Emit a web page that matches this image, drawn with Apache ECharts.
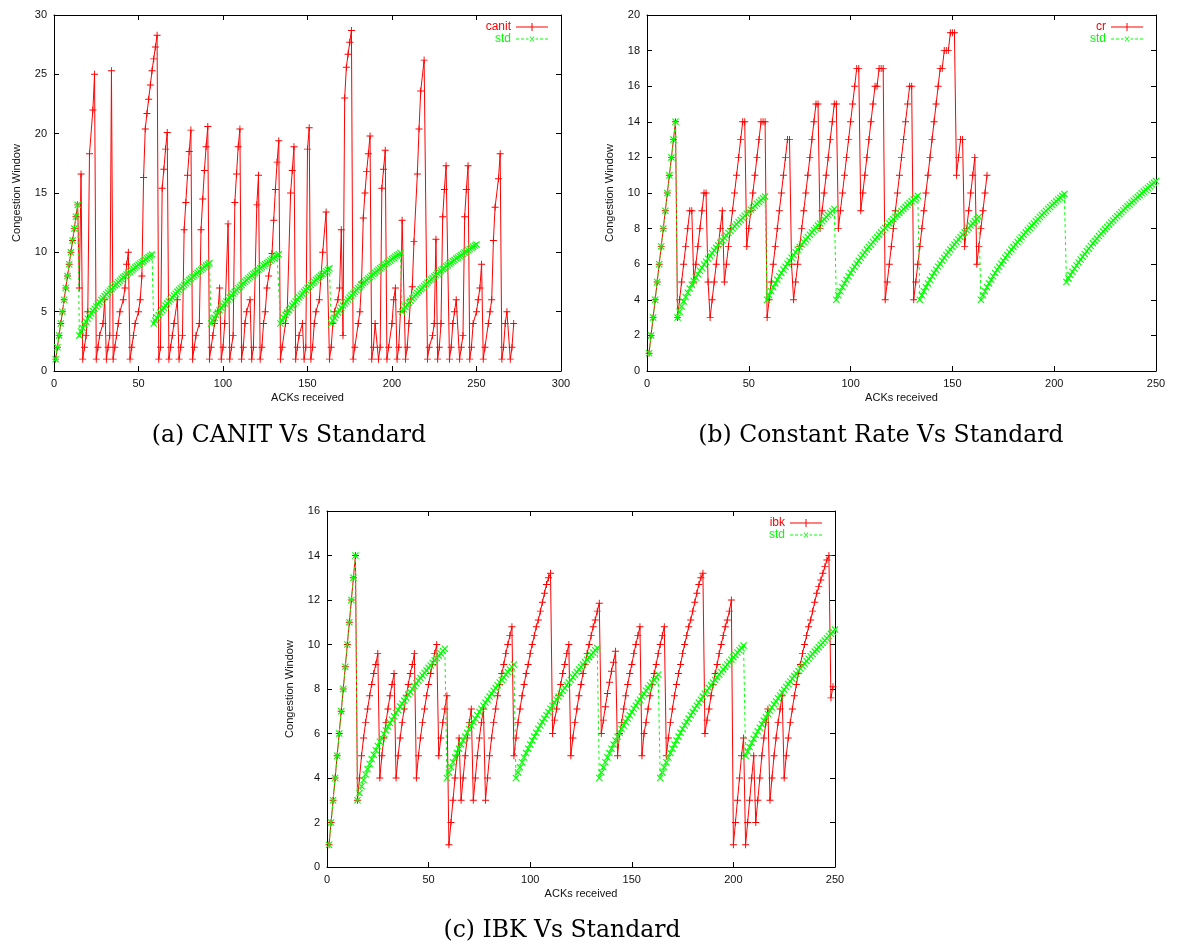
<!DOCTYPE html>
<html><head><meta charset="utf-8">
<script src="https://cdn.jsdelivr.net/npm/echarts@6/dist/echarts.min.js"></script>
<style>html,body{margin:0;padding:0;background:#fff}#c{width:1180px;height:947px}</style>
</head><body><div id="c"></div>
<script>
// ---------- data ----------
// std series, x = 1..250
const stdY = [1,2,3,4,5,6,7,8,9,10,11,12,13,14,
3.00,3.33,3.63,3.91,4.16,4.40,4.63,4.85,5.05,5.25,5.44,5.63,5.80,5.98,6.14,6.31,6.47,6.62,6.77,6.92,7.06,7.21,7.34,7.48,7.61,7.75,7.87,8.00,8.13,8.25,8.37,8.49,8.61,8.72,8.84,8.95,9.06,9.17,9.28,9.39,9.50,9.60,9.71,9.81,
4.00,4.25,4.48,4.71,4.92,5.12,5.32,5.51,5.69,5.86,6.03,6.20,6.36,6.52,6.67,6.82,6.97,7.11,7.25,7.39,7.52,7.66,7.79,7.92,8.04,8.17,8.29,8.41,8.53,8.65,8.76,8.88,8.99,9.10,
4.00,4.25,4.48,4.71,4.92,5.12,5.32,5.51,5.69,5.86,6.03,6.20,6.36,6.52,6.67,6.82,6.97,7.11,7.25,7.39,7.52,7.66,7.79,7.92,8.04,8.17,8.29,8.41,8.53,8.65,8.76,8.88,8.99,9.10,9.21,9.32,9.43,9.53,9.64,9.74,9.84,
4.00,4.25,4.48,4.71,4.92,5.12,5.32,5.51,5.69,5.86,6.03,6.20,6.36,6.52,6.67,6.82,6.97,7.11,7.25,7.39,7.52,7.66,7.79,7.92,8.04,8.17,8.29,8.41,8.53,8.65,
4.00,4.25,4.48,4.71,4.92,5.12,5.32,5.51,5.69,5.86,6.03,6.20,6.36,6.52,6.67,6.82,6.97,7.11,7.25,7.39,7.52,7.66,7.79,7.92,8.04,8.17,8.29,8.41,8.53,8.65,8.76,8.88,8.99,9.10,9.21,9.32,9.43,9.53,9.64,9.74,9.84,9.95,
5.00,5.20,5.39,5.58,5.76,5.93,6.10,6.26,6.42,6.58,6.73,6.88,7.02,7.17,7.31,7.44,7.58,7.71,7.84,7.97,8.09,8.22,8.34,8.46,8.58,8.69,8.81,8.92,9.03,9.14,9.25,9.36,9.47,9.57,9.68,9.78,9.88,9.99,10.08,10.18,10.28,10.38,10.48,10.57,10.67];

const canitPts = [[1,1],[2,2],[3,3],[4,4],[5,5],[6,6],[7,7],[8,8],[9,9],[10,10],[11,11],[12,12],[13,13],[14,14],
[15,7],[16,16.6],[17,1],[18,2],[19,3],[20,5],[21,18.3],[23,22],[24,25],[25,1],[26,2],[27,3],[29,4],[30,6],[31,1],[32,2],[33,3],[34,25.3],[35,1],[36,2],[37,3],[38,4],[39,5],[41,6],[42,7],[43,9],[44,10],[45,1],[46,2],[47,3],[48,4],[50,5],[51,6],[52,8],[53,16.3],[54,20.4],[55,21.7],[56,22.9],[57,24.1],[58,25.3],[59,26.3],[60,27.3],[61,28.3],[62,1],[63,2],[64,15.4],[65,17],[66,18.7],[67,20.1],[68,1],[69,2],[70,3],[71,4],[73,6],
[74,1],[75,2],[76,3],[77,11.9],[78,14.2],[79,16.5],[80,18.5],[81,20.3],[82,1],[83,2],[84,3],[86,4],[87,11.9],[88,14.5],[89,16.9],[90,18.9],[91,20.6],[92,1],[93,2],[94,3],[95,4],[97,5],[98,7],[99,1],[100,2],[101,4],[103,12.4],[104,1],[105,2],[106,3],[107,14.2],[108,16.6],[109,18.9],[110,20.4],[111,1],[112,2],[113,4],[114,5],[116,6],[117,1],[118,2],[120,14],[121,16.5],[122,1],[123,2],[124,4],[125,5],[126,7],[127,8],[129,9.9],[130,12.7],[131,15.3],[132,17.6],[133,19.4],[134,1],[135,2],[137,4],[138,5],[140,15],[141,16.9],[142,18.9],[143,1],[144,2],[145,3],[147,4],
[148,1],[149,2],[150,18.7],[151,20.5],[152,1],[153,2],[154,4],[155,5],[157,6],[158,8],[159,10],[161,13.4],[163,1],[164,2],[165,4],[166,5],[168,6],[169,7],[170,11.9],[171,3],[172,23],[173,25.6],[174,26.7],[175,27.7],[176,28.7],[177,1],[178,2],[180,4],[181,5],[182,7.5],[183,12.9],[184,15],[185,16.8],[186,18.3],[187,19.8],[188,1],[189,2],[190,4],[192,1],[193,2],[194,15.4],[195,17],[196,18.6],[197,1],[198,2],[200,4],[201,6],[202,7],[203,1],[204,2],[205,5],[206,12.7],[208,1],[209,2],[210,4],[211,6],[212,7.1],[213,10.9],[215,16.6],[216,20.4],[217,23.6],[219,26.2],
[221,1],[222,2],[224,3],[225,4],[226,11.1],[227,1],[228,2],[229,4],[230,13],[231,15.3],[232,17.3],[234,1],[235,2],[236,4],[237,5],[238,6],[240,1],[241,2],[242,3],[243,13],[244,15.3],[245,17.3],[246,1],[247,2],[248,4],[250,5],[251,6],[252,7],[253,9],[254,1],[255,2],[257,4],[258,5],[259,6],[260,11],[261,13.8],[263,16.2],[264,18.3],[265,1],[266,2],[267,4],[268,5],[270,1],[271,2],[272,4]];

const crPts = [[1,1],[2,2],[3,3],[4,4],[5,5],[6,6],[7,7],[8,8],[9,9],[10,10],[11,11],[12,12],[13,13],[14,14],
[15,3],[16,4],[17,5],[18,6],[19,7],[20,8],[21,9],[22,9],[23,5],[24,6],[25,7],[26,8],[27,9],[28,10],[29,10],[30,5],[31,3],[32,4],[33,5],[34,6],[35,7],[36,8],[37,9],[38,5],[39,6],[40,7],[41,8],[42,9],[43,10],[44,11],[45,12],[46,13],[47,14],[48,14],[49,7],[50,8],[51,9],[52,10],[53,11],[54,12],[55,13],[56,14],[57,14],[58,14],[59,3],
[60,4],[61,5],[62,6],[63,7],[64,8],[65,9],[66,10],[67,11],[68,12],[69,13],[70,13],[71,6],[72,4],[73,5],[74,6],[75,7],[76,8],[77,9],[78,10],[79,11],[80,12],[81,13],[82,14],[83,15],[84,15],[85,8],[86,9],[87,10],[88,11],[89,12],[90,13],[91,14],[92,15],[93,15],[94,8],[95,9],[96,10],[97,11],[98,12],[99,13],[100,14],[101,15],[102,16],[103,17],[104,17],[105,9],[106,10],[107,11],[108,12],[109,13],[110,14],[111,15],[112,16],[113,16],[114,17],[115,17],[116,17],[117,4],
[118,5],[119,6],[120,7],[121,8],[122,9],[123,10],[124,11],[125,12],[126,13],[127,14],[128,15],[129,16],[130,16],[131,4],[132,5],[133,6],[134,7],[135,8],[136,9],[137,10],[138,11],[139,12],[140,13],[141,14],[142,15],[143,16],[144,17],[145,17],[146,18],[147,18],[148,18],[149,19],[150,19],[151,19],[152,11],[153,12],[154,13],[155,13],[156,7],[157,8],[158,9],[159,10],[160,11],[161,12],[162,6],[163,7],[164,8],[165,9],[166,10],[167,11]];

const ibkPts = [[1,1],[2,2],[3,3],[4,4],[5,5],[6,6],[7,7],[8,8],[9,9],[10,10],[11,11],[12,12],[13,13],[14,14],
[15,3],[16,4],[17,5],[18,5.8],[19,6.5],[20,7.1],[21,7.7],[22,8.2],[23,8.7],[24,9.1],[25,9.6],[26,4],[27,5],[28,5.8],[29,6.5],[30,7.1],[31,7.7],[32,8.2],[33,8.7],[34,4],[35,5],[36,5.8],[37,6.5],[38,7.1],[39,7.7],[40,8.2],[41,8.7],[42,9.1],[43,9.6],[44,4],[45,5],[46,5.8],[47,6.5],[48,7.1],[49,7.7],[50,8.2],[51,8.7],[52,9.1],[53,9.6],[54,10],[55,5],[56,5.8],[57,6.5],[58,7.1],[59,7.7],
[60,1],[61,2],[62,3],[63,4],[64,5],[65,5.8],[66,3],[67,4],[68,5],[69,5.8],[70,6.5],[71,7.1],[72,3],[73,4],[74,5],[75,5.8],[76,6.5],[77,7.1],[78,3],[79,4],[80,5],[81,5.8],[82,6.5],[83,7.1],[84,7.7],[85,8.2],[86,8.7],[87,9.1],[88,9.6],[89,10],[90,10.4],[91,10.8],
[92,5],[93,5.8],[94,6.5],[95,7.1],[96,7.7],[97,8.2],[98,8.7],[99,9.1],[100,9.6],[101,10],[102,10.4],[103,10.8],[104,11.1],[105,11.5],[106,11.9],[107,12.3],[108,12.7],[109,13],[110,13.2],
[111,6],[112,6.6],[113,7.1],[114,7.7],[115,8.2],[116,8.7],[117,9.1],[118,9.6],[119,10],[120,5],[121,5.8],[122,6.5],[123,7.1],[124,7.7],[125,8.2],[126,8.7],[127,9.1],[128,9.6],[129,10],[130,10.4],[131,10.8],[132,11.1],[133,11.5],[134,11.85],
[135,6],[136,6.6],[137,7.2],[138,7.8],[139,8.3],[140,8.8],[141,9.2],[142,9.7],[143,5],[144,6],[145,6.5],[146,7.1],[147,7.7],[148,8.2],[149,8.7],[150,9.1],[151,9.6],[152,10],[153,10.4],[154,10.8],
[155,5],[156,6],[157,6.5],[158,7.1],[159,7.7],[160,8.2],[161,8.7],[162,9.1],[163,9.6],[164,10],[165,10.4],[166,10.8],
[167,5],[168,5.8],[169,6.5],[170,7.1],[171,7.7],[172,8.2],[173,8.7],[174,9.1],[175,9.6],[176,10],[177,10.4],[178,10.8],[179,11.1],[180,11.5],[181,11.9],[182,12.3],[183,12.7],[184,13],[185,13.2],
[186,6],[187,6.6],[188,7.1],[189,7.7],[190,8.2],[191,8.7],[192,9.1],[193,9.6],[194,10],[195,10.4],[196,10.8],[197,11.1],[198,11.5],[199,12],
[200,1],[201,2],[202,3],[203,4],[204,5],[205,5.8],[206,1],[207,2],[208,3],[209,4],[210,5],[211,2],[212,3],[213,4],[214,5],[215,5.8],[216,6.5],[217,7.1],[218,3],[219,4],[220,5],[221,5.8],[222,6.5],[223,7.1],[224,7.7],
[225,4],[226,5],[227,5.8],[228,6.5],[229,7.1],[230,7.7],[231,8.2],[232,8.7],[233,9.1],[234,9.6],[235,10],[236,10.4],[237,10.8],[238,11.1],[239,11.5],[240,11.9],[241,12.3],[242,12.6],[243,12.9],[244,13.2],[245,13.5],[246,13.8],[247,14],[248,7.6],[249,8.1]];

const redNames = ['canit','cr','ibk'];
const captions = ['(a) CANIT Vs Standard','(b) Constant Rate Vs Standard','(c) IBK Vs Standard'];
const xMaxes = [300,250,250];
const yMaxes = [30,20,16];
const yIntervals = [5,2,2];
const xInterval = 50;

// ---------- layout ----------
const grids = [
  {left:54, top:15, width:507, height:356},
  {left:647, top:15, width:509, height:356},
  {left:327, top:511, width:508, height:356}
];
const captionPos = [[289,436],[881,436],[562,931]];
const RED = '#ff0000', GREEN = '#00ff00';
const PLUS = 'path://M0,2.6H6V3.4H0Z M2.6,0H3.4V6H2.6Z';
const CROSS = 'path://M0,0.7L0.7,0L6,5.3L5.3,6Z M5.3,0L6,0.7L0.7,6L0,5.3Z';
const ICON_RED = 'path://M0,3.5H32V4.5H0Z M15.5,0H16.5V8H15.5Z';
const ICON_GREEN = 'path://M0,2H3V3H0Z M5,2H8V3H5Z M10,2H12.5V3H10Z M19.5,2H22V3H19.5Z M24,2H27V3H24Z M29,2H32V3H29Z M13.5,0L14.5,0L18.5,5L17.5,5Z M17.5,0L18.5,0L14.5,5L13.5,5Z';
const FONT = 'Liberation Sans';

const xAxis = [], yAxis = [], series = [], legend = [], graphic = [];
const redData = [canitPts, crPts, ibkPts];
const stdData = stdY.map((v, i) => [i + 1, v]);

grids.forEach((g, i) => {
  const axLine = {onZero:false, lineStyle:{color:'#000', width:1}};
  const tick = {inside:true, length:5, lineStyle:{color:'#000', width:1}};
  xAxis.push({gridIndex:i, type:'value', min:0, max:xMaxes[i], interval:xInterval, position:'bottom',
    axisLine:axLine, axisTick:tick, splitLine:{show:false},
    axisLabel:{color:'#111', fontSize:11, margin:7, fontFamily:FONT},
    name:'ACKs received', nameLocation:'middle', nameGap:21,
    nameTextStyle:{color:'#111', fontSize:11, fontFamily:FONT}});
  xAxis.push({gridIndex:i, type:'value', min:0, max:xMaxes[i], interval:xInterval, position:'top',
    axisLine:axLine, axisTick:tick, splitLine:{show:false}, axisLabel:{show:false}});
  yAxis.push({gridIndex:i, type:'value', min:0, max:yMaxes[i], interval:yIntervals[i], position:'left',
    axisLine:axLine, axisTick:tick, splitLine:{show:false},
    axisLabel:{color:'#111', fontSize:11, margin:7, fontFamily:FONT},
    name:'Congestion Window', nameLocation:'middle', nameGap:32, nameRotate:90,
    nameTextStyle:{color:'#111', fontSize:11, fontFamily:FONT}});
  yAxis.push({gridIndex:i, type:'value', min:0, max:yMaxes[i], interval:yIntervals[i], position:'right',
    axisLine:axLine, axisTick:tick, splitLine:{show:false}, axisLabel:{show:false}});

  series.push({name:redNames[i], type:'line', xAxisIndex:2*i, yAxisIndex:2*i, data:redData[i],
    symbol:PLUS, symbolSize:7, showAllSymbol:true, animation:false, emphasis:{disabled:true},
    lineStyle:{color:RED, width:1}, itemStyle:{color:RED, borderWidth:0}, z:2});
  series.push({name:'std', type:'line', xAxisIndex:2*i, yAxisIndex:2*i, data:stdData,
    symbol:CROSS, symbolSize:7, showAllSymbol:true, animation:false, emphasis:{disabled:true},
    lineStyle:{color:GREEN, width:1, type:[3,3]}, itemStyle:{color:GREEN, borderWidth:0}, z:3});

  const right = 1180 - (g.left + g.width - 13);
  legend.push({data:[{name:redNames[i], icon:ICON_RED, textStyle:{color:RED}}], right:right, top:g.top + 6,
    orient:'vertical', align:'right', itemWidth:32, itemHeight:8, padding:0, selectedMode:false,
    itemStyle:{borderWidth:0}, textStyle:{fontSize:12, fontFamily:FONT}});
  legend.push({data:[{name:'std', icon:ICON_GREEN, textStyle:{color:GREEN}}], right:right, top:g.top + 18,
    orient:'vertical', align:'right', itemWidth:32, itemHeight:5, padding:0, selectedMode:false,
    itemStyle:{borderWidth:0}, textStyle:{fontSize:12, fontFamily:FONT}});

  graphic.push({type:'text', x:captionPos[i][0], y:captionPos[i][1],
    style:{text:captions[i], font:'23.5px "DejaVu Serif"', fill:'#000',
      textAlign:'center', textVerticalAlign:'middle', align:'center', verticalAlign:'middle'}});
});

const chart = echarts.init(document.getElementById('c'));
chart.setOption({animation:false, grid:grids, xAxis, yAxis, series, legend, graphic});
</script>
</body></html>
